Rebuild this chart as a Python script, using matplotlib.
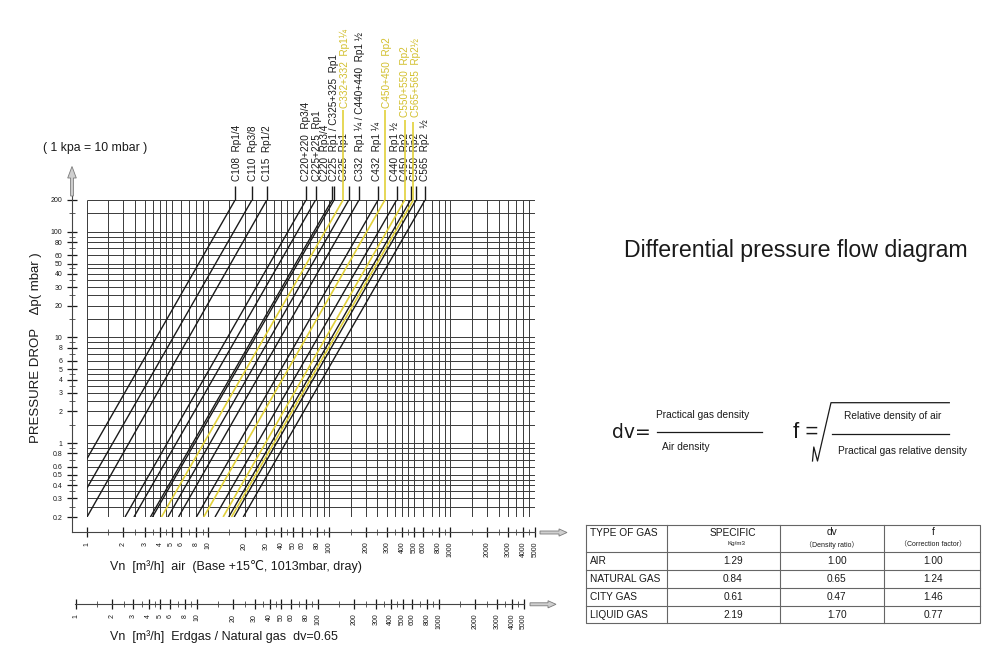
import numpy as np
import matplotlib
matplotlib.use('Agg')
import matplotlib.pyplot as plt
from matplotlib.transforms import blended_transform_factory
from matplotlib.patches import Polygon
from matplotlib.ticker import NullFormatter

plt.rcParams['font.family'] = ['Liberation Sans', 'DejaVu Sans', 'Noto Sans CJK SC']

# ------------------------------------------------------------------ data
valve_names = ["C108", "C110", "C115", "C220+220", "C225+225", "C220", "C225",
               "C332+332", "C325", "C332", "C432", "C450+450", "C440",
               "C550+550", "C450", "C565+565", "C550", "C565"]
# flow (air, m3/h) where each line meets 200 mbar and 0.2 mbar
q_top = [16.7, 23.0, 30.5, 64.3, 77.1, 105.5, 109.6, 130, 145, 176,
         253, 288, 360, 420, 469, 495, 521, 618]
q_bottom = [0.53, 0.73, 1.0, 2.06, 2.44, 3.34, 3.47, 4.12, 4.66, 5.7,
            8.0, 9.2, 11.4, 13.3, 14.8, 15.6, 16.4, 19.5]
highlight = [False, False, False, False, False, False, False,
             True, False, False, False, True, False,
             True, False, True, False, False]

black_labels = ["C108  Rp1/4", "C110  Rp3/8", "C115  Rp1/2",
                "C220+220  Rp3/4\nC225+225  Rp1",
                "C220  Rp3/4\nC225  Rp1 / C325+325  Rp1",
                "C325  Rp1", "C332  Rp1 ¼ / C440+440  Rp1 ½", "C432  Rp1 ¼",
                "C440  Rp1 ½", "C450  Rp2\nC550  Rp2\nC565  Rp2  ½"]
black_label_q = [17.2, 23.6, 30.8, 71.4, 101.0, 132.5, 179.6, 246.7, 349.4, 508]
yellow_labels = ["C332+332  Rp1¼", "C450+450  Rp2", "C550+550  Rp2\nC565+565  Rp2½"]
yellow_label_q = [135, 298, 469.4]

x_major = [1, 2, 3, 4, 5, 6, 8, 10, 20, 30, 40, 50, 60, 80, 100, 200, 300, 400,
           500, 600, 800, 1000, 2000, 3000, 4000, 5000]
x_minor = [1.5, 2.5, 3.5, 4.5, 7, 9, 15, 25, 35, 45, 70, 90, 150, 250, 350, 450,
           700, 900, 1500, 2500, 3500, 4500]
y_major = [0.2, 0.3, 0.4, 0.5, 0.6, 0.8, 1, 2, 3, 4, 5, 6, 8, 10, 20, 30, 40,
           50, 60, 80, 100, 200]
y_minor = [0.25, 0.35, 0.45, 0.7, 0.9, 1.5, 2.5, 3.5, 4.5, 7, 9, 15, 25, 35, 45,
           70, 90, 150]

gas_types = ["AIR", "NATURAL GAS", "CITY GAS", "LIQUID GAS"]
specific = ["1.29", "0.84", "0.61", "2.19"]
dv_values = ["1.00", "0.65", "0.47", "1.70"]
f_values = ["1.00", "1.24", "1.46", "0.77"]

# ------------------------------------------------------------------ layout / style
W, H = 1003, 657
AX_L, AX_R, AX_T, AX_B = 87, 535, 200, 517
PT = 72 / 100.0  # points per pixel
BLACK = '#1a1a1a'
GRID = '#3a3a3a'
YEL_LINE = '#e2d13a'
YEL_TEXT = '#d2bf2c'
black_spacing = [1.0, 1.0, 1.0, 1.18, 0.86, 1.0, 1.0, 1.0, 1.0, 0.98]
yellow_spacing = [1.0, 1.0, 1.07]
yellow_label_px = [108, 108.5, 117]
yellow_stub_px = [110, 110, 120, 121.7]

fig = plt.figure(figsize=(W / 100, H / 100), dpi=100)

ax = fig.add_axes([AX_L / W, 1 - AX_B / H, (AX_R - AX_L) / W, (AX_B - AX_T) / H])
ax.set_xscale('log')
ax.set_yscale('log')
ax.set_xlim(1, 5000)
ax.set_ylim(0.2, 200)
ax.patch.set_visible(False)

xdec = (AX_R - AX_L) / np.log10(5000)
ydec = (AX_B - AX_T) / 3.0

# grid
gx = sorted(x_major + x_minor)
gy = sorted(y_major + y_minor)
ax.vlines(gx, 0.2, 200, colors=GRID, lw=0.7, zorder=1)
ax.hlines(gy, 1, 5000, colors=GRID, lw=0.7, zorder=1)

trans = blended_transform_factory(ax.transData, ax.transAxes)


def frac(py):
    return (AX_B - py) / (AX_B - AX_T)


yi = 0
for i, name in enumerate(valve_names):
    if highlight[i]:
        c, lw, z = YEL_LINE, 1.2, 4
        top = frac(yellow_stub_px[yi])
        yi += 1
    else:
        c, lw, z = BLACK, 1.0, 3
        top = frac(186)
    ax.plot([q_bottom[i], q_top[i]], [0.2, 200], color=c, lw=lw, zorder=z,
            solid_capstyle='butt')
    ax.plot([q_top[i], q_top[i]], [1.0, top], color=c, lw=lw, zorder=z,
            transform=trans, clip_on=False, solid_capstyle='butt')

for q, t, ls in zip(black_label_q, black_labels, black_spacing):
    ax.text(q, frac(181), t, transform=trans, rotation=90, ha='center',
            va='bottom', multialignment='left', linespacing=ls,
            fontsize=7.2, color=BLACK)
for q, t, py, ls in zip(yellow_label_q, yellow_labels, yellow_label_px, yellow_spacing):
    ax.text(q, frac(py), t, transform=trans, rotation=90, ha='center',
            va='bottom', multialignment='left', linespacing=ls,
            fontsize=7.2, color=YEL_TEXT)

# axes (offset spines)
for s in ['top', 'right']:
    ax.spines[s].set_visible(False)
ax.spines['left'].set_position(('outward', 15 * PT))
ax.spines['bottom'].set_position(('outward', 15 * PT))
ax.spines['bottom'].set_bounds(10 ** ((72 - AX_L) / xdec), 5000)
ax.spines['left'].set_bounds(0.2 * 10 ** (-15 / ydec), 200 * 10 ** (5 / ydec))
for s in ['left', 'bottom']:
    ax.spines[s].set_linewidth(0.8)
    ax.spines[s].set_color('#444444')

ax.set_xticks(x_major, labels=[str(v) for v in x_major])
ax.set_xticks(x_minor, minor=True)
ax.set_yticks(y_major, labels=[f"{v:g}" for v in y_major])
ax.set_yticks(y_minor, minor=True)
ax.xaxis.set_minor_formatter(NullFormatter())
ax.yaxis.set_minor_formatter(NullFormatter())
ax.tick_params(which='major', direction='inout', length=7, width=0.9,
               labelsize=5, pad=3.5, colors=BLACK)
ax.tick_params(which='minor', direction='inout', length=5, width=0.5, colors=BLACK)
ax.tick_params(axis='x', which='major', labelrotation=90)

# natural gas secondary scale
f_ng = float(f_values[1])
AX2_L = 70
ax2 = fig.add_axes([AX2_L / W, 1 - 604 / H, (AX_R - AX2_L) / W, 0.0005])
ax2.set_xscale('log')
ax2.set_xlim(f_ng * 10 ** ((AX2_L - AX_L) / xdec), f_ng * 5000)
ax2.patch.set_visible(False)
for s in ['top', 'right', 'left']:
    ax2.spines[s].set_visible(False)
ax2.spines['bottom'].set_bounds(0.98, 5000)
ax2.spines['bottom'].set_linewidth(0.8)
ax2.spines['bottom'].set_color('#444444')
ax2.set_yticks([])
ax2.set_xticks(x_major, labels=[str(v) for v in x_major])
ax2.set_xticks(x_minor, minor=True)
ax2.xaxis.set_minor_formatter(NullFormatter())
ax2.tick_params(which='major', direction='inout', length=7, width=0.9,
                labelsize=5, pad=3.5, colors=BLACK, labelrotation=90)
ax2.tick_params(which='minor', direction='inout', length=5, width=0.5, colors=BLACK)

# overlay in pixel coordinates
ao = fig.add_axes([0, 0, 1, 1])
ao.set_xlim(0, W)
ao.set_ylim(H, 0)
ao.axis('off')
ao.patch.set_visible(False)

ao.text(95, 148, "( 1 kpa = 10 mbar )", ha='center', va='center', fontsize=8.8, color=BLACK)
ao.text(36, 348, "PRESSURE DROP    Δp( mbar )", rotation=90, ha='center',
        va='center', fontsize=9.5, color=BLACK)
ao.text(110, 566.5, "Vn  [m³/h]  air  (Base +15℃, 1013mbar, dray)", ha='left',
        va='center', fontsize=9.0, color=BLACK)
ao.text(110, 637, "Vn  [m³/h]  Erdgas / Natural gas  dv=0.65", ha='left',
        va='center', fontsize=9.0, color=BLACK)

arrow_kw = dict(facecolor='#cfcfcf', edgecolor='#7a7a7a', lw=0.6, closed=True)
ao.add_patch(Polygon([(70.6, 196), (73.4, 196), (73.4, 178), (76.3, 178), (72, 166.5),
                      (67.7, 178), (70.6, 178)], **arrow_kw))
for yy, x0, x1 in [(532.5, 540, 567), (604.3, 530, 556)]:
    xh = x1 - 8
    ao.add_patch(Polygon([(x0, yy - 1.5), (xh, yy - 1.5), (xh, yy - 3.6), (x1, yy),
                          (xh, yy + 3.6), (xh, yy + 1.5), (x0, yy + 1.5)], **arrow_kw))

# title
ao.text(796, 250, "Differential pressure flow diagram", ha='center', va='center',
        fontsize=16.7, color=BLACK)

# formulas
ao.text(631, 432, "dv=", ha='center', va='center', fontsize=13.5,
        family='DejaVu Sans', color=BLACK)
ao.plot([656.7, 762.3], [432.3, 432.3], color=BLACK, lw=0.9)
ao.text(703, 415, "Practical gas density", ha='center', va='center', fontsize=7.3, color=BLACK)
ao.text(662, 446.7, "Air density", ha='left', va='center', fontsize=7.3, color=BLACK)
ao.text(806, 433, "f =", ha='center', va='center', fontsize=16, color=BLACK)
ao.plot([812.5, 813.8, 817.5, 831, 949.3], [461, 447, 461, 402.7, 402.7],
        color=BLACK, lw=0.9)
ao.plot([831.7, 949.3], [434.3, 434.3], color=BLACK, lw=0.9)
ao.text(893, 416, "Relative density of air", ha='center', va='center', fontsize=7.3, color=BLACK)
ao.text(902, 451, "Practical gas relative density", ha='center', va='center',
        fontsize=7.3, color=BLACK)

# table
TL, TR, TT, TB = 586, 980, 525, 623.3
col_x = [667.3, 780, 884]
row_y = [551.7, 569.7, 587.7, 605.5]
tcol = '#666666'
ao.plot([TL, TR, TR, TL, TL], [TT, TT, TB, TB, TT], color=tcol, lw=0.8)
for cx in col_x:
    ao.plot([cx, cx], [TT, TB], color=tcol, lw=0.8)
for ry in row_y:
    ao.plot([TL, TR], [ry, ry], color=tcol, lw=0.8)
tfs = 7.3
ao.text(590, 533, "TYPE OF GAS", ha='left', va='center', fontsize=tfs, color=BLACK)
ao.text(733, 533, "SPECIFIC", ha='center', va='center', fontsize=tfs, color=BLACK)
ao.text(736.5, 543.5, "Kg/m3", ha='center', va='center', fontsize=4.5, color=BLACK)
ao.text(832, 532, "dv", ha='center', va='center', fontsize=tfs, color=BLACK)
ao.text(832, 545, "（Density ratio）", ha='center', va='center', fontsize=5, color=BLACK)
ao.text(933, 532, "f", ha='center', va='center', fontsize=tfs, color=BLACK)
ao.text(933, 545, "（Correction factor）", ha='center', va='center', fontsize=5, color=BLACK)
bounds = [row_y[0]] + row_y[1:] + [TB]
for i in range(4):
    cy = (bounds[i] + bounds[i + 1]) / 2 + 0.5
    ao.text(590, cy, gas_types[i], ha='left', va='center', fontsize=tfs, color=BLACK)
    ao.text(733, cy, specific[i], ha='center', va='center', fontsize=tfs, color=BLACK)
    ao.text(836.7, cy, dv_values[i], ha='center', va='center', fontsize=tfs, color=BLACK)
    ao.text(933, cy, f_values[i], ha='center', va='center', fontsize=tfs, color=BLACK)

fig.savefig('out.png', dpi=100)
